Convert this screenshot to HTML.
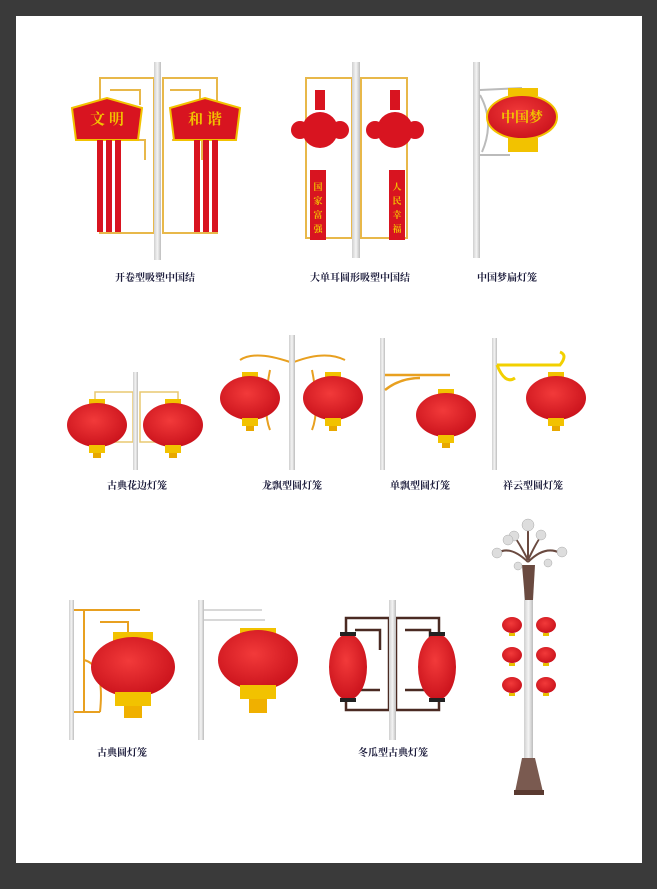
<!DOCTYPE html><html><head><meta charset="utf-8"><style>
html,body{margin:0;padding:0;background:#3a3a3a;width:657px;height:889px;overflow:hidden}
svg{display:block}
text{font-family:"Liberation Serif","Noto Serif CJK SC",serif;font-weight:bold;font-size:10px;fill:#1a1a3a;text-anchor:middle}
</style></head><body>
<svg width="657" height="889" viewBox="0 0 657 889" xmlns="http://www.w3.org/2000/svg">
<defs>
<radialGradient id="r" cx="45%" cy="40%" r="65%"><stop offset="0" stop-color="#f23a3a"/><stop offset="1" stop-color="#c8101a"/></radialGradient>
<linearGradient id="p" x1="0" x2="1"><stop offset="0" stop-color="#cfcfcf"/><stop offset=".5" stop-color="#f4f4f4"/><stop offset="1" stop-color="#bdbdbd"/></linearGradient>
<g id="lan"><rect x="-8" y="-26" width="16" height="6" fill="#f2c200"/><ellipse cx="0" cy="0" rx="30" ry="22" fill="url(#r)"/><rect x="-8" y="20" width="16" height="8" fill="#f2c200"/><rect x="-4" y="28" width="8" height="5" fill="#e8a800"/></g>
</defs>
<rect x="16" y="16" width="626" height="847" fill="#fff"/>
<!-- Row1 item1 -->
<g fill="none" stroke="#e8b84a" stroke-width="2">
<rect x="100" y="78" width="54" height="155"/><rect x="163" y="78" width="54" height="155"/>
<path d="M110 90h30v15M115 140h30v20M170 90h30v15M172 140h30v20"/></g>
<rect x="154" y="62" width="7" height="198" fill="url(#p)"/>
<path d="M72 108 L107 98 L142 108 L138 140 L76 140Z" fill="#d81420" stroke="#f2c200" stroke-width="2"/>
<path d="M170 108 L205 98 L240 108 L236 140 L174 140Z" fill="#d81420" stroke="#f2c200" stroke-width="2"/>
<text x="107" y="124" style="fill:#f2c200;font-size:15px">文 明</text><text x="205" y="124" style="fill:#f2c200;font-size:15px">和 谐</text>
<g fill="#d81420"><rect x="97" y="140" width="6" height="92"/><rect x="106" y="140" width="6" height="92"/><rect x="115" y="140" width="6" height="92"/>
<rect x="194" y="140" width="6" height="92"/><rect x="203" y="140" width="6" height="92"/><rect x="212" y="140" width="6" height="92"/></g>
<!-- Row1 item2 -->
<g fill="none" stroke="#e8b84a" stroke-width="2"><rect x="306" y="78" width="46" height="160"/><rect x="361" y="78" width="46" height="160"/></g>
<rect x="352" y="62" width="8" height="196" fill="url(#p)"/>
<g fill="#d81420"><circle cx="320" cy="130" r="18"/><circle cx="300" cy="130" r="9"/><circle cx="340" cy="130" r="9"/><rect x="315" y="90" width="10" height="20"/>
<circle cx="395" cy="130" r="18"/><circle cx="375" cy="130" r="9"/><circle cx="415" cy="130" r="9"/><rect x="390" y="90" width="10" height="20"/>
<rect x="310" y="170" width="16" height="70"/><rect x="389" y="170" width="16" height="70"/></g>
<text x="318" y="190" style="fill:#f2c200;font-size:9px">国</text><text x="318" y="204" style="fill:#f2c200;font-size:9px">家</text><text x="318" y="218" style="fill:#f2c200;font-size:9px">富</text><text x="318" y="232" style="fill:#f2c200;font-size:9px">强</text>
<text x="397" y="190" style="fill:#f2c200;font-size:9px">人</text><text x="397" y="204" style="fill:#f2c200;font-size:9px">民</text><text x="397" y="218" style="fill:#f2c200;font-size:9px">幸</text><text x="397" y="232" style="fill:#f2c200;font-size:9px">福</text>
<!-- Row1 item3 -->
<rect x="473" y="62" width="7" height="196" fill="url(#p)"/>
<path d="M480 90 L522 88 M480 155 L510 155 M480 95 Q495 122 482 152" stroke="#bbb" stroke-width="2" fill="none"/>
<rect x="508" y="88" width="30" height="8" fill="#f2c200"/><ellipse cx="522" cy="117" rx="35" ry="22" fill="url(#r)" stroke="#f2c200" stroke-width="2"/>
<rect x="508" y="138" width="30" height="14" fill="#f2c200"/>
<text x="522" y="122" style="fill:#f2c200;font-size:14px">中国梦</text>
<!-- Row2 -->
<g fill="none" stroke="#e8c870" stroke-width="1.5"><rect x="95" y="392" width="38" height="50"/><rect x="140" y="392" width="38" height="50"/></g>
<rect x="133" y="372" width="5" height="98" fill="url(#p)"/>
<use href="#lan" x="97" y="425"/><use href="#lan" x="173" y="425"/>
<path d="M240 360 Q255 350 290 362 M294 362 Q325 350 345 360 M270 370 Q262 410 270 430 M312 370 Q320 410 312 430" stroke="#e8a020" stroke-width="2" fill="none"/>
<rect x="289" y="335" width="6" height="135" fill="url(#p)"/>
<use href="#lan" x="250" y="398" transform="translate(0,0)"/><use href="#lan" x="333" y="398"/>
<rect x="380" y="338" width="5" height="132" fill="url(#p)"/>
<path d="M385 375 H450 M385 390 Q400 378 420 378" stroke="#e8a020" stroke-width="2.5" fill="none"/>
<use href="#lan" x="446" y="415"/>
<rect x="492" y="338" width="5" height="132" fill="url(#p)"/>
<path d="M497 365 H560 Q568 355 560 352 M497 365 Q505 385 515 378" stroke="#f2d000" stroke-width="3" fill="none"/>
<use href="#lan" x="556" y="398"/>
<!-- Row3 -->
<rect x="69" y="600" width="5" height="140" fill="url(#p)"/>
<g fill="none" stroke="#e8a020" stroke-width="2"><path d="M74 610 H140 M74 712 H100 M84 610 V712 M100 622 H128 V640 M84 660 Q105 665 100 712"/></g>
<rect x="113" y="632" width="40" height="10" fill="#f2c200"/>
<ellipse cx="133" cy="667" rx="42" ry="30" fill="url(#r)"/>
<rect x="115" y="692" width="36" height="14" fill="#f2c200"/><rect x="124" y="706" width="18" height="12" fill="#f0b000"/>
<rect x="198" y="600" width="6" height="140" fill="url(#p)"/>
<path d="M204 610 H262 M204 620 H265" stroke="#ccc" stroke-width="1.5"/>
<rect x="240" y="628" width="36" height="8" fill="#f2c200"/>
<ellipse cx="258" cy="660" rx="40" ry="30" fill="url(#r)"/>
<rect x="240" y="685" width="36" height="14" fill="#f2c200"/><rect x="249" y="699" width="18" height="14" fill="#f0b000"/>
<g fill="none" stroke="#4a2a22" stroke-width="2.5"><rect x="346" y="618" width="43" height="92"/><rect x="396" y="618" width="43" height="92"/>
<path d="M355 630 H380 V650 M405 630 H430 V650 M355 690 H380 M405 690 H430"/></g>
<rect x="389" y="600" width="7" height="140" fill="url(#p)"/>
<ellipse cx="348" cy="667" rx="19" ry="33" fill="url(#r)"/><ellipse cx="437" cy="667" rx="19" ry="33" fill="url(#r)"/>
<g fill="#222"><rect x="340" y="632" width="16" height="4"/><rect x="340" y="698" width="16" height="4"/><rect x="429" y="632" width="16" height="4"/><rect x="429" y="698" width="16" height="4"/></g>
<!-- Row3 tall lamp -->
<rect x="524" y="590" width="9" height="180" fill="url(#p)"/>
<path d="M522 565 L535 565 L533 600 L525 600Z" fill="#6a4a40"/>
<path d="M528 562 Q510 545 498 553 M528 562 Q545 545 560 553 M528 560 Q515 535 512 535 M528 560 Q540 535 543 535 M528 560 V525" stroke="#6a4a40" stroke-width="2" fill="none"/>
<g fill="#ddd" stroke="#aaa" stroke-width=".5"><circle cx="528" cy="525" r="6"/><circle cx="514" cy="536" r="5"/><circle cx="541" cy="535" r="5"/><circle cx="497" cy="553" r="5"/><circle cx="562" cy="552" r="5"/><circle cx="518" cy="566" r="4"/><circle cx="548" cy="563" r="4"/><circle cx="508" cy="540" r="5"/></g>
<g fill="url(#r)"><ellipse cx="512" cy="625" rx="10" ry="8"/><ellipse cx="546" cy="625" rx="10" ry="8"/><ellipse cx="512" cy="655" rx="10" ry="8"/><ellipse cx="546" cy="655" rx="10" ry="8"/><ellipse cx="512" cy="685" rx="10" ry="8"/><ellipse cx="546" cy="685" rx="10" ry="8"/></g>
<g fill="#e8c000"><rect x="509" y="633" width="6" height="3"/><rect x="543" y="633" width="6" height="3"/><rect x="509" y="663" width="6" height="3"/><rect x="543" y="663" width="6" height="3"/><rect x="509" y="693" width="6" height="3"/><rect x="543" y="693" width="6" height="3"/></g>
<path d="M522 758 L535 758 L543 792 L515 792Z" fill="#7a5a50"/><rect x="514" y="790" width="30" height="5" fill="#5a3a30"/>
<!-- Labels -->
<text x="155" y="281">开卷型吸塑中国结</text>
<text x="360" y="281">大单耳圆形吸塑中国结</text>
<text x="507" y="281">中国梦扁灯笼</text>
<text x="137" y="489">古典花边灯笼</text>
<text x="292" y="489">龙飘型圆灯笼</text>
<text x="420" y="489">单飘型圆灯笼</text>
<text x="533" y="489">祥云型圆灯笼</text>
<text x="122" y="756">古典圆灯笼</text>
<text x="393" y="756">冬瓜型古典灯笼</text>
</svg>
</body></html>
